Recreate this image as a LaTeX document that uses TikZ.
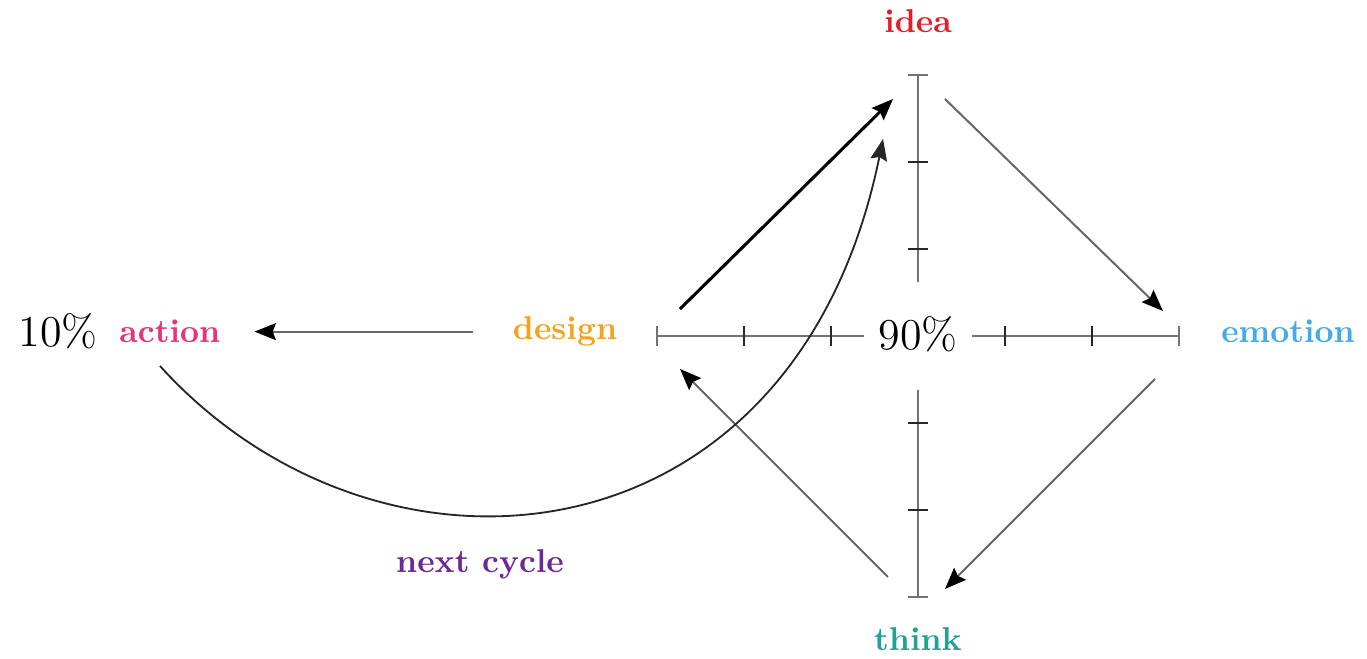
\documentclass[tikz,border=0pt]{standalone}
\usepackage{tikz}
\usetikzlibrary{arrows.meta,positioning,calc}
\definecolor{actionpink}{HTML}{E8327C}
\definecolor{designorange}{HTML}{F5A21E}
\definecolor{ideared}{HTML}{E41E2A}
\definecolor{emotionblue}{HTML}{45AAE6}
\definecolor{thinkteal}{HTML}{20A396}
\definecolor{cyclepurple}{HTML}{6E2896}
\tikzset{
  phaselabel/.style={font=\fontsize{10.8}{13}\selectfont\bfseries, inner sep=2pt},
  sharelabel/.style={font=\Large, inner sep=2pt},
  axisline/.style={draw=black!55, line width=0.6pt},
  axistick/.style={draw=black!85, line width=0.6pt},
  cycleflow/.style={-{Stealth[length=7pt,width=5.5pt,inset=1pt,color=black]},
    line width=0.65pt, draw=black!60},
  mainflow/.style={-{Stealth[length=7pt,width=5.5pt,inset=1pt]},
    line width=1pt, draw=black},
  loopflow/.style={-{Stealth[length=7pt,width=5.5pt,inset=1pt]},
    line width=0.6pt, draw=black!85}
}
\begin{document}
\begin{tikzpicture}
  \useasboundingbox (-10.552,-3.713) rectangle (5.161,3.862);
  % axes, broken round the centre label
  \foreach \s in {-1,1} {
    \draw[axisline] (0.62*\s,0) -- (3*\s,0);
    \draw[axisline] (0,0.62*\s) -- (0,3*\s);
    \draw[axisline] (3*\s,-0.115) -- (3*\s,0.115);
    \draw[axisline] (-0.115,3*\s) -- (0.115,3*\s);
    \foreach \t in {1,2} {
      \draw[axistick] (\t*\s,-0.115) -- (\t*\s,0.115);
      \draw[axistick] (-0.115,\t*\s) -- (0.115,\t*\s);
    }
  }
  % labels
  \node[sharelabel] (centre) at (0,0.02) {90\%};
  \node[sharelabel] (rest) at (-9.885,0.05) {10\%};
  \node[phaselabel, text=actionpink] (action) at (-8.60,0.05) {action};
  \node[phaselabel, text=designorange] (design) at (-4.057,0.05) {design};
  \node[phaselabel, text=ideared] (idea) at (0,3.62) {idea};
  \node[phaselabel, text=emotionblue] (emotion) at (4.253,0.05) {emotion};
  \node[phaselabel, text=thinkteal] (think) at (0,-3.48) {think};
  \node[phaselabel, text=cyclepurple] (nextcycle) at (-5.034,-2.63) {next cycle};
  % arrow ends round the cross
  \coordinate (designOut) at (-2.736,0.31);
  \coordinate (ideaIn) at (-0.287,2.724);
  \coordinate (ideaOut) at (0.31,2.724);
  \coordinate (emotionIn) at (2.816,0.287);
  \coordinate (emotionOut) at (2.724,-0.494);
  \coordinate (thinkIn) at (0.31,-2.908);
  \coordinate (thinkOut) at (-0.345,-2.77);
  \coordinate (designIn) at (-2.736,-0.379);
  \coordinate (actionOut) at (-8.713,-0.345);
  \coordinate (cycleIn) at (-0.402,2.264);
  % flows
  \draw[cycleflow] (design) -- (action)
    [shorten <=11pt, shorten >=9pt];
  \draw[mainflow] (designOut) -- (ideaIn);
  \draw[cycleflow] (ideaOut) -- (emotionIn);
  \draw[cycleflow] (emotionOut) -- (thinkIn);
  \draw[cycleflow] (thinkOut) -- (designIn);
  \draw[loopflow] (actionOut) .. controls (-6.2,-3.12) and (-1.42,-2.72) .. (cycleIn);
\end{tikzpicture}
\end{document}
